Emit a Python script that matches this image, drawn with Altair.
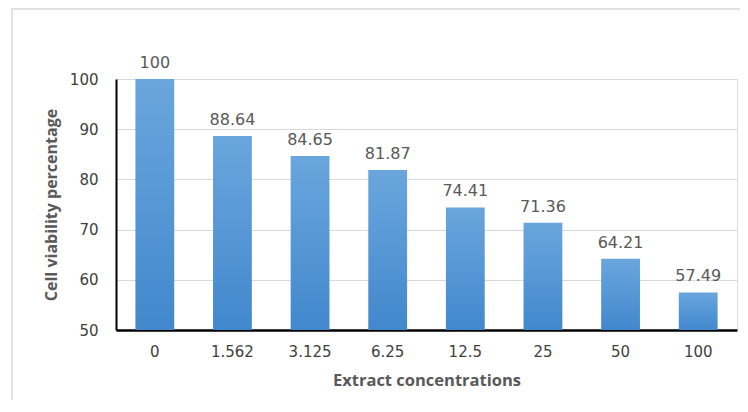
import altair as alt
import pandas as pd

categories = ["0", "1.562", "3.125", "6.25", "12.5", "25", "50", "100"]
values = [100, 88.64, 84.65, 81.87, 74.41, 71.36, 64.21, 57.49]
labels = ["100", "88.64", "84.65", "81.87", "74.41", "71.36", "64.21", "57.49"]

df = pd.DataFrame({"conc": categories, "viability": values, "label": labels})

LFONT = "DejaVu Sans"
TFONT = "Open Sans"
GRAY = "#595959"

x = alt.X("conc:N", sort=categories, title="Extract concentrations",
          scale=alt.Scale(paddingInner=0.5, paddingOuter=0.25),
          axis=alt.Axis(labelAngle=0, labelFontSize=15, labelColor="#404040",
                        labelFont=LFONT, labelPadding=14, ticks=False,
                        domainColor="#000000", domainWidth=2.5,
                        titleFont=TFONT, titleFontSize=16.5, titleFontWeight="bold",
                        titleColor=GRAY, titlePadding=13))
y = alt.Y("viability:Q", title="Cell viability percentage",
          scale=alt.Scale(domain=[50, 100], zero=False, nice=False, clamp=True),
          axis=alt.Axis(values=[50, 60, 70, 80, 90, 100], labelFontSize=15,
                        labelColor="#404040", labelFont=LFONT, labelPadding=18,
                        ticks=False, domainColor="#000000", domainWidth=2,
                        gridColor="#d9d9d9", gridWidth=1,
                        titleFont=TFONT, titleFontSize=16, titleFontWeight="bold",
                        titleColor=GRAY, titlePadding=10))

frame = alt.Chart(pd.DataFrame({"a": [0]})).mark_rect(
    fill=None, stroke="#d9d9d9", strokeWidth=1.5
).encode(x=alt.value(-104), x2=alt.value(700), y=alt.value(-70), y2=alt.value(400))

bars = alt.Chart(df).mark_bar(
    color=alt.Gradient(gradient="linear", x1=0, y1=0, x2=0, y2=1,
                       stops=[alt.GradientStop(color="#6aa6dd", offset=0),
                              alt.GradientStop(color="#4288cd", offset=1)])
).encode(x=x, y=y)

text = alt.Chart(df).mark_text(
    dy=-11, fontSize=16, font=LFONT, color=GRAY, baseline="alphabetic"
).encode(x=alt.X("conc:N", sort=categories), y="viability:Q", text="label:N")

chart = alt.layer(frame, bars, text).properties(
    width=621, height=251,
    autosize=alt.AutoSizeParams(type="none"),
    padding={"left": 108, "top": 71, "right": 3, "bottom": 70},
).configure_view(stroke=None).configure(background="white")

chart.save("out.html", embed_options={"renderer": "svg", "actions": False})
